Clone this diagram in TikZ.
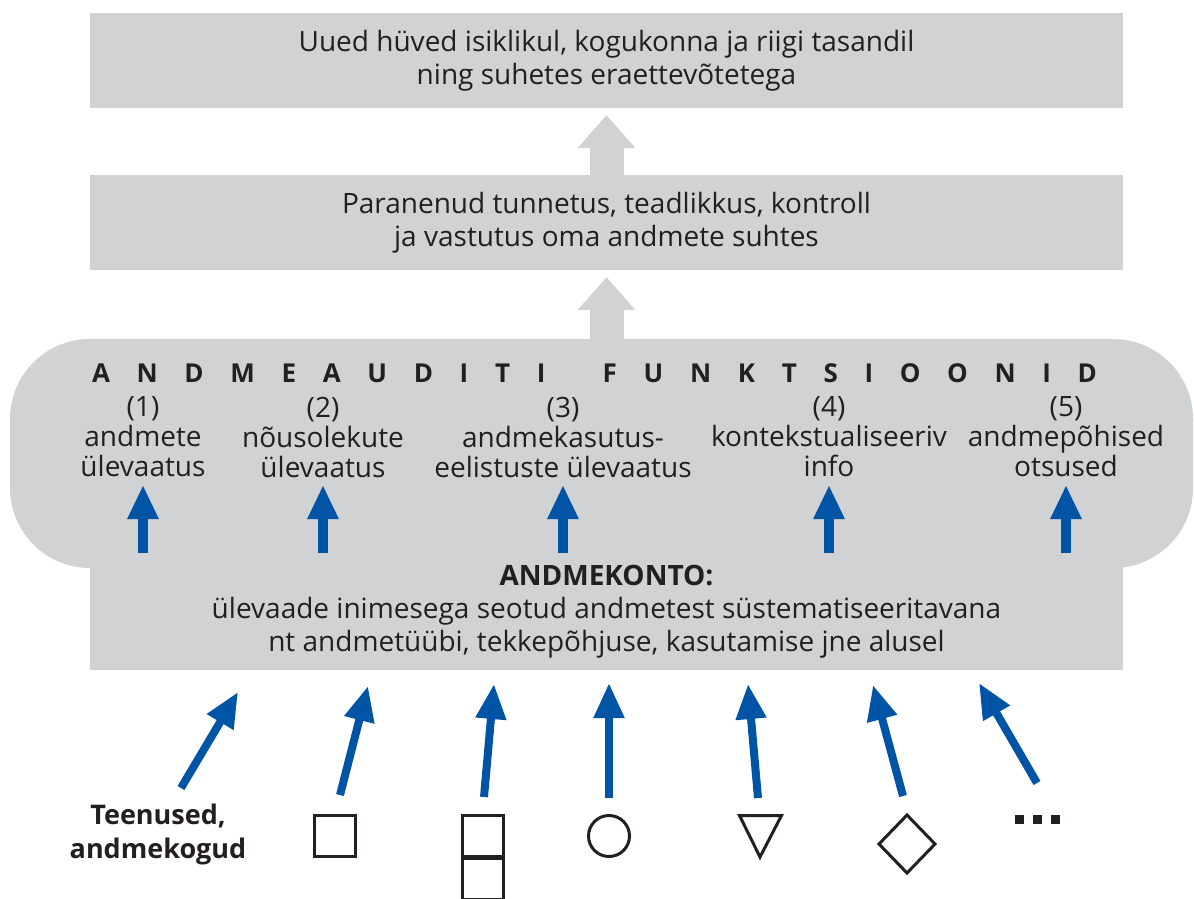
\documentclass[tikz,border=0pt]{standalone}
\usepackage{fontspec}
\setmainfont{Open Sans}
\usetikzlibrary{arrows.meta}
\definecolor{boxgray}{HTML}{D1D2D4}
\definecolor{arrowblue}{HTML}{0054A6}
\definecolor{ink}{HTML}{231F20}
\begin{document}
\begin{tikzpicture}[x=1pt,y=-1pt,
  txt/.style={text=ink, font=\fontsize{28}{33}\selectfont, align=center, inner sep=0pt},
  coltxt/.style={text=ink, font=\fontsize{28}{30}\selectfont, align=center, inner sep=0pt},
  graybox/.style={fill=boxgray, draw=none, inner sep=0pt},
  blockarrow/.style={draw=boxgray, line width=34pt, -{Triangle[length=33pt,width=56pt]}},
  bluearrow/.style={draw=arrowblue, line width=10pt, -{Triangle[length=34pt,width=29pt]}},
  srcarrow/.style={draw=arrowblue, line width=8pt, -{Triangle[length=35pt,width=29pt]}},
  symb/.style={draw=ink, line width=3pt, fill=none, inner sep=0pt},
]
\useasboundingbox[fill=white] (0,0) rectangle (1194,898);

% boxes
\node[graybox, minimum width=1033pt, minimum height=95pt] (top) at (606.5,60.5) {};
\node[txt] (toptxt) at (606.5,61) {Uued hüved isiklikul, kogukonna ja riigi tasandil\\ning suhetes eraettevõtetega};

\node[graybox, minimum width=1033pt, minimum height=95pt] (mid) at (606.5,222.5) {};
\node[txt] (midtxt) at (606.5,223) {Paranenud tunnetus, teadlikkus, kontroll\\ja vastutus oma andmete suhtes};

\node[graybox, rounded corners=80pt, minimum width=1183pt, minimum height=229pt] (audit) at (601.5,453.5) {};
\node[graybox, minimum width=1033pt, minimum height=112pt] (konto) at (606.5,614) {};

% block arrows
\draw[blockarrow] (mid.north) -- ([yshift=-7pt]top.south);
\draw[blockarrow] (mid.south |- audit.north) -- ([yshift=-7pt]mid.south);

% title
\node[txt, font=\bfseries\fontsize{26}{30}\selectfont] (title) at (594.5,373)
  {\makebox[1005pt]{A\hfill N\hfill D\hfill M\hfill E\hfill A\hfill U\hfill D\hfill I\hfill T\hfill I\hspace{4pt}\hfill\hfill F\hfill U\hfill N\hfill K\hfill T\hfill S\hfill I\hfill O\hfill O\hfill N\hfill I\hfill D}};

% functions
\node[coltxt] (f1) at (143,437) {(1)\\andmete\\ülevaatus};
\node[coltxt] (f2) at (323,437) {(2)\\nõusolekute\\ülevaatus};
\node[coltxt] (f3) at (563,437) {(3)\\andmekasutus-\\eelistuste ülevaatus};
\node[coltxt] (f4) at (829,437) {(4)\\kontekstualiseeriv\\info};
\node[coltxt] (f5) at (1066,437) {(5)\\andmepõhised\\otsused};

\foreach \i/\x in {1/143,2/323,3/563,4/829,5/1066}{
  \coordinate (ub\i) at (\x,553);
  \coordinate (ut\i) at (\x,485);
  \draw[bluearrow] (ub\i) -- (ut\i);
}

% konto text
\node[txt] (kontotxt) at (606.5,612) {\textbf{ANDMEKONTO:}\\ülevaade inimesega seotud andmetest süstematiseeritavana\\nt andmetüübi, tekkepõhjuse, kasutamise jne alusel};

% sources
\node[txt, font=\bfseries\fontsize{27}{34}\selectfont] (src) at (158,834) {Teenused,\\andmekogud};
\node[symb, minimum size=41pt] (sq) at (335,835.5) {};
\node[symb, minimum size=41pt] (dsq1) at (483,835.5) {};
\node[symb, minimum size=41pt] (dsq2) at (483,878.5) {};
\node[symb, circle, minimum size=41pt] (circ) at (609,836) {};
\coordinate (tri) at (760,830);
\draw[symb, line join=miter] (739.5,815.5) -- (781.5,815.5) -- (760,857) -- cycle;
\coordinate (dia) at (907,844);
\draw[symb] (907,815) -- (935,844) -- (907,873) -- (879,844) -- cycle;
\foreach \x in {1015,1033,1051}{
  \fill[ink] (\x,815) rectangle ++(9,9);
}
\coordinate (dots) at (1037,820);

% source arrows
\coordinate (a1) at (181,788); \coordinate (b1) at (238,692);
\coordinate (a2) at (340,795); \coordinate (b2) at (368,686);
\coordinate (a3) at (484,797); \coordinate (b3) at (494,684);
\coordinate (a4) at (609,798); \coordinate (b4) at (609,683);
\coordinate (a5) at (758,798); \coordinate (b5) at (748,684);
\coordinate (a6) at (903,796); \coordinate (b6) at (873,685);
\coordinate (a7) at (1037,783); \coordinate (b7) at (979,683);
\foreach \i in {1,...,7}{
  \draw[srcarrow] (a\i) -- (b\i);
}
\end{tikzpicture}
\end{document}
